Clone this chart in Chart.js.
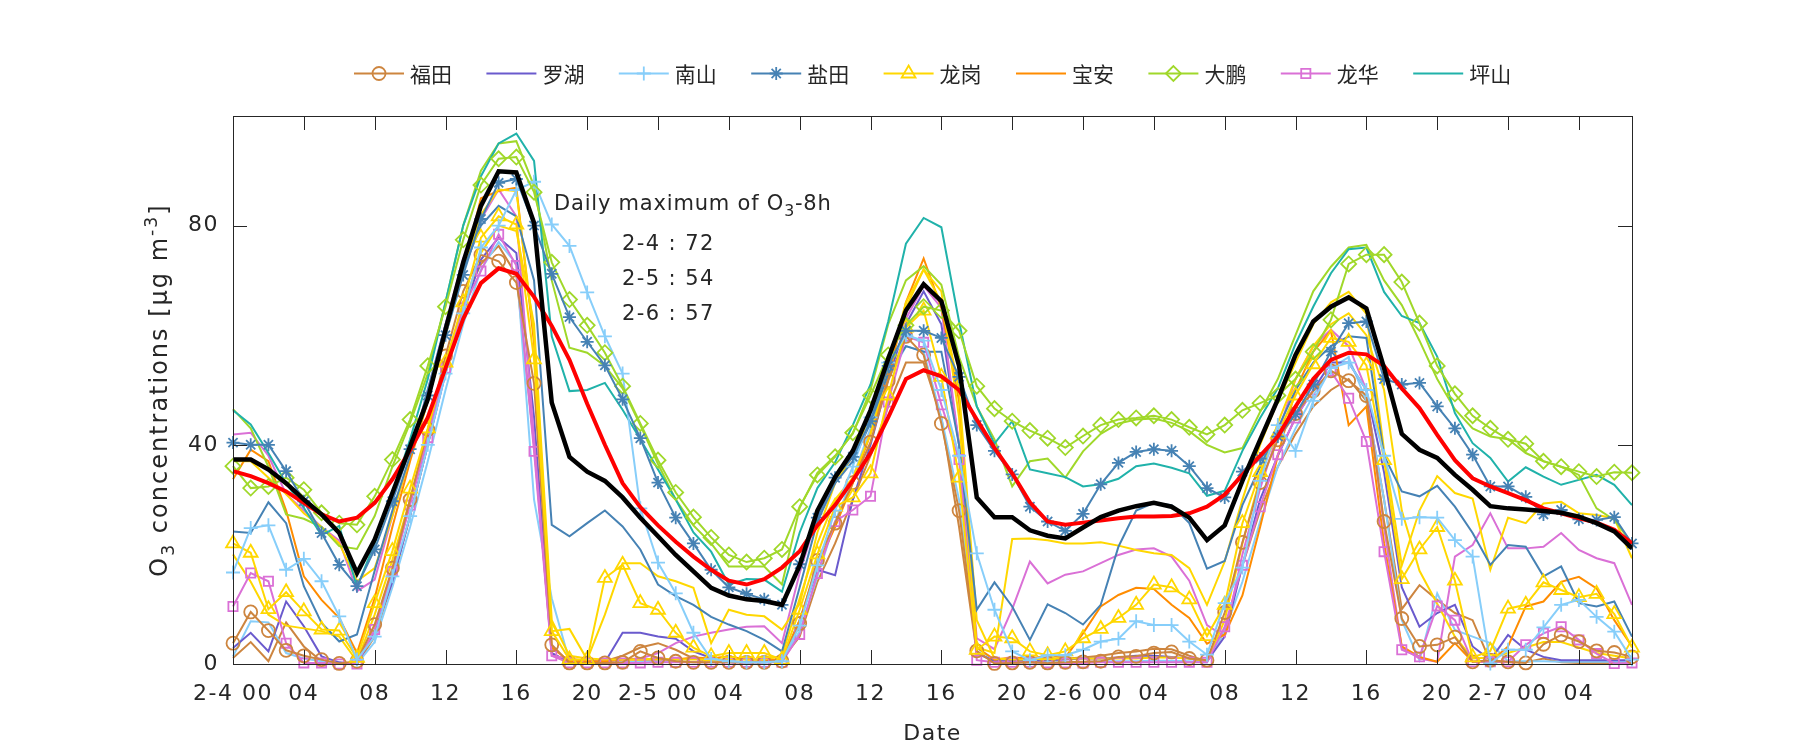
<!DOCTYPE html>
<html>
<head>
<meta charset="utf-8">
<script src="https://cdn.jsdelivr.net/npm/chart.js@4.4.0/dist/chart.umd.min.js"></script>
<style>
html,body{margin:0;padding:0;background:#ffffff;}
#wrap{width:1800px;height:750px;position:relative;}
</style>
</head>
<body>
<div id="wrap"><canvas id="c" width="1800" height="750"></canvas></div>
<script>
// ---------------- data ----------------
const hours = [0,1,2,3,4,5,6,7,8,9,10,11,12,13,14,15,16,17,18,19,20,21,22,23,24,25,26,27,28,29,
  30,31,32,33,34,35,36,37,38,39,40,41,42,43,44,45,46,47,48,49,50,51,52,53,54,55,56,57,58,59,
  60,61,62,63,64,65,66,67,68,69,70,71,72,73,74,75,76,77,78,79];
const xTickLabels = ['2-4 00','04','08','12','16','20','2-5 00','04','08','12','16','20',
  '2-6 00','04','08','12','16','20','2-7 00','04'];
const yTickValues = [0, 40, 80];
const districtNames = ['福田','罗湖','南山','盐田','龙岗','宝安','大鹏','龙华','坪山'];
const dailyMaxLabels = ['2-4 : 72','2-5 : 54','2-6 : 57'];

// mean of all stations (black)
const meanLine = [37.3,37.3,35.5,33,30,27.3,23.9,16.6,22.7,31.2,
  39.7,48.3,61,73.3,83.6,89.9,89.7,80.5,47.7,37.8,
  35.1,33.4,30.4,26.7,23.3,19.9,16.9,13.9,12.5,11.8,
  11.5,10.8,18,28,34.1,38.9,46.3,55.7,64.5,69.3,
  66.2,54.4,30.4,26.8,26.8,24.4,23.4,22.9,24.9,26.8,
  28,28.8,29.4,28.7,26.7,22.6,25.3,33.4,40.9,48.3,
  56.4,62.5,65.2,66.9,64.9,54,42,39.1,37.6,34.5,
  31.8,28.8,28.4,28.2,27.9,27.6,26.9,25.7,24.2,21.1];
// O3-8h (red)
const o3_8hLine = [35.2,34.3,33,31.5,29.4,27.3,26,26.7,29.4,33.7,
  39,45,54,63,69.5,72.2,71.2,67,61.7,55.5,
  47.5,40,33,28.6,25.3,22.3,19.6,17.2,15.2,14.5,
  15.5,17.6,20.6,25.3,29,33.5,38.5,45,52,53.6,
  52.5,50,44.6,39.4,34.8,29.5,26,25.4,25.8,26.2,
  26.6,26.9,26.9,27,27.5,28.7,30.9,34.5,38,41.5,
  47,52,55.5,56.8,56.5,54.4,50.3,46.7,41.8,37.2,
  33.9,32.4,31.2,29.9,28.4,27.5,26.6,25.8,24.5,22];
// 福田
const futianA = [3.8,9.5,6.1,2.5,1.5,0.8,0.1,0.5,7.2,17.5,
  30,42.8,56.2,68,74.7,73.5,69.6,51.2,3.5,0.2,
  0.2,0.2,0.3,2.3,1.1,0.5,0.3,0.3,0.3,0.3,
  0.3,0.5,7.4,18.9,25.7,33.1,40.5,51.7,59.8,56.4,
  43.9,28,2.4,0.1,0.2,0.3,0.2,0.3,0.4,0.5,
  1.3,1.4,2,2.2,1,0.7,9.4,22.2,33.1,40.9,
  45.7,49.8,53.5,51.7,49,26,8.3,3.2,3.5,4.9,
  0.4,0.7,0.4,0.2,3.6,5.3,4.1,2.4,2.1,1.3];
const futianB = [1.1,4,0.5,7.6,3.2,0.5,0,0,5,15,
  27,40,54,66,73,76.3,71,40,2,0.3,
  0.3,0.5,1.5,3,3.8,2.6,1,0.5,0.3,0.3,
  0.5,0.8,5,15,22,30,38,47,55,55,
  45,25,2,0.5,0.5,0.6,0.8,1,1.2,1.5,
  2,2.3,2.8,2.7,1.5,0.5,6,18,28,36,
  42,47,50,52,48,30,10,14.4,11.7,9.3,
  8,0.4,0.3,0.3,1,0.3,0.2,0.2,0.2,0.2];
// 罗湖
const luohu = [2.9,5.7,2.3,11.4,6.9,1.4,0.3,0,6,15,
  27,40,53,64,73.8,77.8,75,45,2,0.3,
  0.3,0.3,5.7,5.7,5,4.6,2.3,1.1,0.5,0.3,
  0.3,0.5,8,17.2,16.2,30,40,52,62,68,
  62,40,2,0.5,0.5,0.5,0.7,0.8,1,1,
  1.2,1.5,1.5,1.3,1,0.5,5,18,30,38,
  45,50,55,55,50,35,14,6.8,9.3,10.8,
  3.2,0.7,5.3,2.6,1.3,0.7,0.7,0.7,0.7,0.7];
// 南山
const nanshanA = [16.7,24.8,25.3,17.2,19.2,15.1,8.7,0.8,5,16,
  27,40,53,64,76,80,86.5,88,80.2,76.3,
  67.8,59.8,53,28.4,18.5,12.9,5.7,0.9,0.5,0.3,
  0.3,0.5,7,18,28,36,45,55,60,59,
  50,38,20.2,9.9,2.3,0.7,1.6,1.6,2.6,4.1,
  4.6,7.8,7.1,7.1,4.1,1.7,11.1,17.6,33.4,43.6,
  38.9,48,54,55,50,38,26.5,26.8,26.7,22.6,
  19.6,0.1,2.6,2.6,6.7,10.8,11.7,8.6,5.9,0.8];
const nanshanB = [1.4,7.8,7.6,2,1,0.5,0,0,4,14,
  25,37,50,62,72,77,73,30,12,0.5,
  0.3,0.3,0.3,0.5,0.5,0.5,0.3,0.3,0.3,0.3,
  0.3,0.5,6,16,26,34,43,52,58,57,
  45,30,3,0.5,0.3,0.3,0.3,0.3,0.3,0.5,
  0.5,0.5,0.6,0.6,0.5,0.3,6,15,26,36,
  43,49,54,56,48,30,8,0.7,12.9,6.2,
  5,3.8,0.5,0.5,0.5,0.4,0.4,0.4,0.4,0.4];
// 盐田
const yantianA = [40.4,40,40,35.2,29.7,23.9,18.1,14.2,20.9,29.7,
  39.2,49,60,71,81.2,87.8,88.5,80,71.2,63.3,
  58.8,54.5,48.3,41.2,33.1,26.7,22,17.2,14,12.8,
  11.8,10.8,18.2,26.7,34,37.8,44.3,54.4,60.8,60.8,
  59.5,52.4,43.6,38.9,34.6,28.7,26,24.3,27.4,32.8,
  36.7,38.7,39.2,38.9,36.1,32.1,30.4,35.1,37.5,41.5,
  45.6,51,57,62.2,62.5,52,51,51.3,47,43,
  38.2,32.4,32.4,30.5,27.3,28.1,26.4,26.3,26.8,22];
const yantianB = [24.2,23.9,29.5,25.7,14.2,7.5,4.1,5.4,17,28,
  38,50,62,72,80,83.6,81.7,70,25.4,23.3,
  25.7,28,25.1,20.9,14.5,12.4,10.8,8.6,7.2,6,
  4.4,2.3,14,26,33,37,44,53,58,57,
  57,40,9.9,14.9,10.5,4.4,10.9,9.3,7.2,10.8,
  21.4,28,29.4,29,25.7,17.4,18.8,29,36,43,
  50,55,58,59.8,59.5,38,31.5,30.6,32.5,28.7,
  23.9,18.1,21.7,21.4,16,17.8,11.1,10.5,11.4,5];
// 龙岗
const longgangA = [22,20.3,10,13.1,9.6,6.3,6.1,1.1,11.1,20.6,
  32,43,55,66,77.8,81.7,80.2,55.6,6,0.8,
  0.8,15.7,18.1,11.1,9.9,5.7,3,1.4,2,2,
  2,0.8,9.9,20,28.7,30.4,34.8,49,61.4,64.5,
  52.4,34,2.6,5,4.7,2.3,1.6,2.3,4.7,6.4,
  8.4,10.8,14.5,14,11.8,5.1,10.8,25.7,35,42,
  49,54.7,59.5,58.8,54.5,37.2,15.5,20.9,25,15.2,
  1.2,2.4,10.1,10.8,14.9,13.5,12.2,12.8,9.1,3];
const longgangB = [37,37,34,31,27.5,25,22,15.1,17.5,27,
  38,48,60,72,82,86.6,86.3,60,6,6.4,
  0.8,9,18.4,18.4,16,15.1,13.9,3.8,9.9,9,
  8.7,6.3,11,24,33,38,45,56,65,72,
  68,45,3,2,22.8,22.9,22.6,22,22,22.2,
  21.6,20.8,20.2,19.9,17.5,10.8,18.7,30,40,48,
  55,62,66,67.9,63.9,39,18,28,34.3,31.2,
  30.2,17.2,26.7,25.7,29.3,29.6,27.5,27.2,26.6,19.3];
const longgangC = [20,15,9,7,6.5,6,5,0.5,9,19,
  30,42,54,65,75,80,79,62,8,1.5,
  1,0.8,0.8,0.8,1,0.8,0.8,0.8,0.8,0.8,
  0.8,1.5,12,22,30,34,42,54,66,72,
  66,50,8,1,0.8,0.8,1,1,1,1,
  1,1,1.2,1.2,1,0.5,8,22,34,44,
  52,58,62,64,60,50,28,17,11,5,
  1,1.2,2,3,4,4,3,2,1.5,1];
// 宝安
const baoan = [33.7,39.1,37,28,16,11.7,8.4,2,12,25,
  37,48,60,72,85,86.3,86.9,58.6,3,0.5,
  0.5,0.5,0.8,0.8,0.8,0.8,1.2,1,1.4,0.8,
  0.8,0.8,8,18,25,33,42,52,66,74,
  65,48,3,0.8,1.2,1,1.5,1.2,5.6,10.5,
  12.6,13.9,13.7,10.8,8.4,3.7,5.4,12.5,25,38,
  50,57,60.8,43.6,47,22,3.2,1.3,0.4,3.8,
  0.4,0.4,3.2,10.5,11.4,15,15.9,13.8,8,3.2];
// 大鹏
const dapengA = [36.1,32.1,32.4,34,31.8,27.6,25.7,25.4,30.6,37.3,
  44.6,54.4,65.2,77.4,87.4,92.2,92.5,86.1,73.3,66.5,
  61.8,56.8,50.7,43.9,37.2,31.3,26.8,23.1,19.9,18.6,
  19.3,20.9,28.7,34.5,37.8,42.2,49,56.4,61.8,65.2,
  64.5,60.8,50.7,46.6,44.3,42.6,41.2,39.5,41.6,43.6,
  44.6,44.9,45.3,44.6,43.2,41.9,43.6,46.3,47.6,49,
  52,57,62.8,73,74.7,74.7,69.7,62.2,54.4,49.3,
  45.3,43,41,40.2,37,36,35.1,34.2,35,34.9];
const dapengB = [46.5,43,36,27.3,26.5,25,21.5,21,27,36,
  44,53,66,80,90,95,95.4,87.2,70,57.7,
  56.8,54.4,50.3,43.6,36.5,30,25.3,22,17.8,17.8,
  17.8,14.5,28.5,34.9,38,42,50,62,70,72.6,
  69.2,56,47,41,32.4,37,37.5,34,38.8,42,
  43.9,44.6,44.8,44,42.5,40,38.6,39.4,46,52,
  60,68,72.5,76,76.5,70,65.5,59,52,46.5,
  43,41.5,41,38.5,37,36,34.5,28.4,26.3,22];
// 龙华
const longhuaA = [10.5,16.6,15.1,3.8,0.2,0.2,0,0,6.3,16.9,
  29,41.3,54,65,71.7,78.4,72.7,38.8,1.5,0.2,
  0.2,0.2,0.2,0.2,0.3,0.3,0.3,0.3,0.3,0.3,
  0.3,0.3,5.4,16.5,26,28.1,30.6,47.8,59.8,58.7,
  47.3,37.3,0.7,0.3,0.3,0.3,0.2,0.2,0.2,0.3,
  0.3,0.3,0.3,0.3,0.3,0.3,6.8,18,28.7,38.2,
  44.9,50,53.4,48.5,40.6,20.5,2.6,1.3,10.6,8,
  0.4,0.4,0.4,3.5,5.6,6.8,4.4,1.9,0.1,0.2];
const longhuaB = [41.9,42.2,38,31,28,25,22.5,13.3,15.4,27,
  38,50,62,74,81.1,86.6,81.7,41,1.5,1,
  0.5,0.5,0.8,1,2,3.8,5,5.7,6.3,6.8,
  6.9,3.8,16.6,27,33,38,45,55,63,69,
  65,40,4.7,2.7,10,18.7,14.7,16.3,16.9,18.4,
  19.9,20.9,21.1,19.6,15.2,7.1,5,20,32,42,
  52,58,61,58,50,25,3,1,0.4,19.6,
  21.7,27.5,21.1,21.1,21.4,23.9,20.8,19.3,18.4,10.8];
// 坪山
const pingshan = [46.3,43.7,38.5,33,28.5,23.5,25.2,14,22,31,
  41,52,66,80,89,95,96.8,91.8,59.8,49.8,
  50,51.3,46.4,41,35.5,30,24,20.5,14.5,15.5,
  15.4,13.2,24,32.1,36.8,43.6,51,62.5,76.7,81.4,
  79.7,62.5,47,40.2,44.3,35.5,34.8,34.1,32.4,32.8,
  33.8,36.1,36.6,35.8,34.8,30.7,31.6,38.9,44.9,50.3,
  58.4,65.2,71.3,75.7,76,67.9,63.5,62.2,56.1,45.8,
  40.3,37.6,33.3,35.9,34.2,32.7,33.6,34.5,32.7,29];

// ---------------- styles ----------------
const COL = {ft:'#CD853F', lh:'#6A5ACD', ns:'#87CEFA', yt:'#4682B4', lg:'#FFD700',
  ba:'#FF8C00', dp:'#A0D82A', lhua:'#DA70D6', ps:'#20B2AA'};
const MK = {
  ft:{style:'circle', r:6.5}, ns:{style:'cross', r:7}, yt:{style:'star', r:6.5},
  lg:{style:'triangle', r:8}, dp:{style:'rectRot', r:7.5}, lhua:{style:'rect', r:6.5}
};
function ds(data, color, extra) {
  return Object.assign({
    data: data, borderColor: color, backgroundColor: 'rgba(0,0,0,0)', borderWidth: 2,
    pointRadius: 0, pointHoverRadius: 0, tension: 0, fill: false, clip: false,
    pointBorderColor: color, pointBackgroundColor: 'rgba(0,0,0,0)', pointBorderWidth: 1.8
  }, extra || {});
}
function mk(key) { return {pointStyle: MK[key].style, pointRadius: MK[key].r}; }

const datasets = [
  ds(meanLine, '#000000', {borderWidth: 4.5}),
  ds(o3_8hLine, '#FF0000', {borderWidth: 4}),
  ds(yantianA, COL.yt, mk('yt')),
  ds(dapengA, COL.dp, mk('dp')),
  ds(nanshanA, COL.ns, mk('ns')),
  ds(longgangA, COL.lg, mk('lg')),
  ds(futianA, COL.ft, mk('ft')),
  ds(longhuaA, COL.lhua, mk('lhua')),
  ds(pingshan, COL.ps),
  ds(dapengB, COL.dp),
  ds(yantianB, COL.yt),
  ds(longgangB, COL.lg),
  ds(longgangC, COL.lg),
  ds(baoan, COL.ba),
  ds(longhuaB, COL.lhua),
  ds(luohu, COL.lh),
  ds(nanshanB, COL.ns),
  ds(futianB, COL.ft)
];

const legendKeys = ['ft','lh','ns','yt','lg','ba','dp','lhua','ps'];
const FONT = '"DejaVu Sans", sans-serif';
const TXT = '#262626';

function drawMarker(ctx, style, r, x, y, color) {
  ctx.save();
  ctx.strokeStyle = color; ctx.fillStyle = 'rgba(0,0,0,0)'; ctx.lineWidth = 1.8;
  if (Chart.helpers && Chart.helpers.drawPoint) {
    Chart.helpers.drawPoint(ctx, {pointStyle: style, radius: r, borderWidth: 1.8, rotation: 0}, x, y);
  } else {
    ctx.beginPath(); ctx.arc(x, y, r, 0, Math.PI * 2); ctx.stroke();
  }
  ctx.restore();
}
function richWidth(ctx, parts, size) {
  let w = 0;
  parts.forEach(p => { ctx.font = (size * (p.s || 1)) + 'px ' + FONT; w += ctx.measureText(p.t).width; });
  return w;
}
function drawRich(ctx, parts, x, y, size) {
  let cx = x;
  parts.forEach(p => {
    ctx.font = (size * (p.s || 1)) + 'px ' + FONT;
    ctx.fillText(p.t, cx, y + (p.dy || 0) * size);
    cx += ctx.measureText(p.t).width;
  });
}
function setSpacing(ctx, px) { if ('letterSpacing' in ctx) ctx.letterSpacing = px + 'px'; }

const spacingPlugin = {
  id: 'spacing',
  beforeDraw(chart) { setSpacing(chart.ctx, 1.5); }
};

const decor = {
  id: 'decor',
  afterDraw(chart) {
    const ctx = chart.ctx, a = chart.chartArea, xs = chart.scales.x, ys = chart.scales.y;
    ctx.save();
    setSpacing(ctx, 0);
    // box
    ctx.strokeStyle = TXT; ctx.lineWidth = 1;
    ctx.strokeRect(Math.round(a.left) + 0.5, Math.round(a.top) + 0.5,
      Math.round(a.right - a.left), Math.round(a.bottom - a.top));
    // inward ticks
    const TL = 14;
    ctx.beginPath();
    xTickLabels.forEach((lab, k) => {
      const px = Math.round(xs.getPixelForValue(k * 4)) + 0.5;
      ctx.moveTo(px, a.bottom); ctx.lineTo(px, a.bottom - TL);
      ctx.moveTo(px, a.top); ctx.lineTo(px, a.top + TL);
    });
    yTickValues.forEach(v => {
      const py = Math.round(ys.getPixelForValue(v)) + 0.5;
      ctx.moveTo(a.left, py); ctx.lineTo(a.left + TL, py);
      ctx.moveTo(a.right, py); ctx.lineTo(a.right - TL, py);
    });
    ctx.stroke();

    ctx.fillStyle = TXT;
    ctx.textBaseline = 'alphabetic';
    // x title
    setSpacing(ctx, 1.5);
    ctx.font = '22px ' + FONT; ctx.textAlign = 'center';
    ctx.fillText('Date', (a.left + a.right) / 2, 740);
    // y title (rotated)
    ctx.textAlign = 'left';
    setSpacing(ctx, 2);
    const yParts = [{t:'O'},{t:'3', s:0.72, dy:0.28},{t:' concentrations [μg m'},{t:'-3', s:0.72, dy:-0.42},{t:']'}];
    const yw = richWidth(ctx, yParts, 24);
    ctx.save();
    ctx.translate(167, (a.top + a.bottom) / 2);
    ctx.rotate(-Math.PI / 2);
    drawRich(ctx, yParts, -yw / 2, 0, 24);
    ctx.restore();
    // annotation
    setSpacing(ctx, 0.8);
    drawRich(ctx, [{t:'Daily maximum of O'},{t:'3', s:0.75, dy:0.3},{t:'-8h'}], 554, 210, 21);
    setSpacing(ctx, 1.4);
    ctx.font = '21px ' + FONT;
    dailyMaxLabels.forEach((s, i) => ctx.fillText(s, 622, 250 + i * 35));
    // legend
    setSpacing(ctx, 0);
    legendKeys.forEach((key, i) => {
      const x0 = 354 + i * 132.4, y0 = 73.5;
      ctx.strokeStyle = COL[key]; ctx.lineWidth = 2;
      ctx.beginPath(); ctx.moveTo(x0, y0); ctx.lineTo(x0 + 50, y0); ctx.stroke();
      if (MK[key]) drawMarker(ctx, MK[key].style, MK[key].r, x0 + 25, y0, COL[key]);
      ctx.fillStyle = TXT; ctx.textAlign = 'left'; ctx.textBaseline = 'middle';
      ctx.font = '21px "Noto Sans CJK SC", sans-serif';
      ctx.fillText(districtNames[i], x0 + 56, y0 + 1);
    });
    ctx.restore();
  }
};

Chart.defaults.font.family = FONT;
new Chart(document.getElementById('c'), {
  type: 'line',
  data: {labels: hours, datasets: datasets},
  options: {
    responsive: false, animation: false, events: [],
    layout: {padding: {left: 0, right: 168, top: 116, bottom: 0}},
    plugins: {legend: {display: false}, tooltip: {enabled: false}, title: {display: false}},
    scales: {
      x: {
        type: 'category', offset: false,
        grid: {display: false, drawTicks: false}, border: {display: false},
        afterBuildTicks: s => { s.ticks = xTickLabels.map((_, k) => ({value: k * 4})); },
        ticks: {autoSkip: false, maxRotation: 0, minRotation: 0, padding: 17, color: TXT,
          font: {family: FONT, size: 22},
          callback: v => xTickLabels[v / 4]},
        afterFit: s => { s.height = 86; }
      },
      y: {
        min: 0, max: 100,
        grid: {display: false, drawTicks: false}, border: {display: false},
        afterBuildTicks: s => { s.ticks = yTickValues.map(v => ({value: v})); },
        ticks: {padding: 14, color: TXT, font: {family: FONT, size: 22}},
        afterFit: s => { s.width = 233; }
      }
    }
  },
  plugins: [spacingPlugin, decor]
});
</script>
</body>
</html>
